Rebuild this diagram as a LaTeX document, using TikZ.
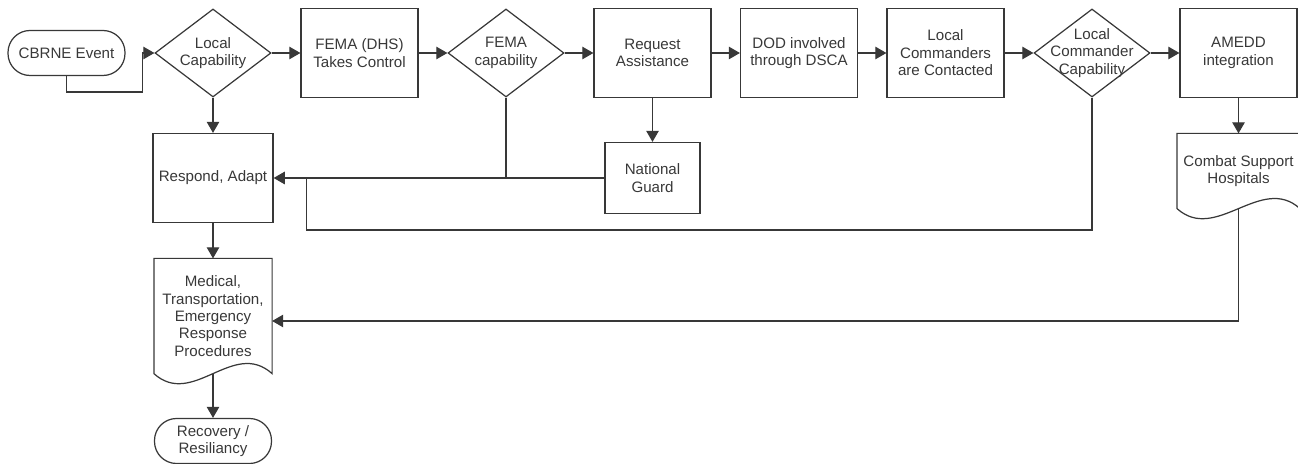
\documentclass[tikz,border=0pt]{standalone}
\usepackage{fontspec}
\setmainfont{Liberation Sans}
\usepackage{tikz}
\usetikzlibrary{positioning, arrows, shapes.geometric}

\tikzset{
  process/.style={rectangle, draw, minimum width=2.34cm, minimum height=1.78cm, align=center},
  decision/.style={diamond, draw, minimum width=2.32cm, minimum height=1.76cm, inner sep=0pt},
  term/.style={rectangle, draw, rounded corners=0.44cm, minimum width=2.34cm, minimum height=0.9cm, align=center},
  document/.style={rectangle, minimum width=2.34cm, align=center},
  every label/.style={align=center}
}
% rectangle with wavy bottom edge
\newcommand{\docshape}[1]{\draw (#1.south east) -- (#1.north east) -- (#1.north west) -- (#1.south west)
  .. controls ([xshift=0.78cm,yshift=-0.7cm]#1.south west) and ([xshift=-0.78cm,yshift=0.7cm]#1.south east) .. (#1.south east) -- cycle;}

\begin{document}
\begin{tikzpicture} [node distance = 2.93cm, on grid, color=black!78, line width=0.7pt, font=\fontsize{8.6}{9.9}\selectfont]
        \useasboundingbox (0,0) rectangle (25.96,-9.28);
        \node (cbrne)[term] at (1.33,-1.06) {CBRNE Event};
        \node (lcap)[decision, right = of cbrne, label=center:{Local\\Capability}] {};
        \node (fema)[process, right = of lcap] {FEMA (DHS)\\Takes Control};
        \node (femacap)[decision, right = of fema, label=center:{FEMA\\capability}] {};
        \node (req)[process, right = of femacap] {Request\\Assistance};
        \node (dod)[process, right = of req] {DOD involved\\through DSCA};
        \node (lcmd)[process, right = of dod] {Local\\Commanders\\are Contacted};
        \node (lcc)[decision, right = of lcmd, label=center:{Local\\Commander\\Capability}] {};
        \node (amedd)[process, right = of lcc] {AMEDD\\integration};
        \node (respond)[process, below = 2.5cm of lcap] {Respond, Adapt};
        \node (guard)[process, minimum width=1.9cm, minimum height=1.42cm, below = 2.5cm of req] {National\\Guard};
        \node (medical)[document, minimum height=2.28cm, below = 2.76cm of respond]
        {Medical,\\Transportation,\\Emergency\\Response\\Procedures};
        \node (combat)[document, minimum height=1.48cm, below = 2.36cm of amedd] {Combat Support\\Hospitals};
        \node (recovery)[term, below = 2.5cm of medical] {Recovery /\\Resiliancy};
        \docshape{medical} \docshape{combat}

        \path [-triangle 60]
        (lcap) edge (fema) (fema) edge (femacap) (femacap) edge (req) (req) edge (dod)
        (dod) edge (lcmd) (lcmd) edge (lcc) (lcc) edge (amedd)
        (lcap) edge (respond) (req) edge (guard) (guard) edge (respond)
        (respond) edge (medical) (amedd) edge (combat) (medical) edge (recovery);
        \draw [-triangle 60] (cbrne.south) -- ++(0,-0.32) -| ([xshift=-0.24cm]lcap.west) -- (lcap.west);
        \draw (femacap.south) -- (femacap.south |- guard.west);
        \draw (lcc.south) |- ([xshift=0.66cm, yshift=-1.04cm]respond.east) -- ([xshift=0.66cm]respond.east);
        \draw [-triangle 60] (combat.south) |- ([yshift=-0.1cm]medical.east);
    \end{tikzpicture}
\end{document}
